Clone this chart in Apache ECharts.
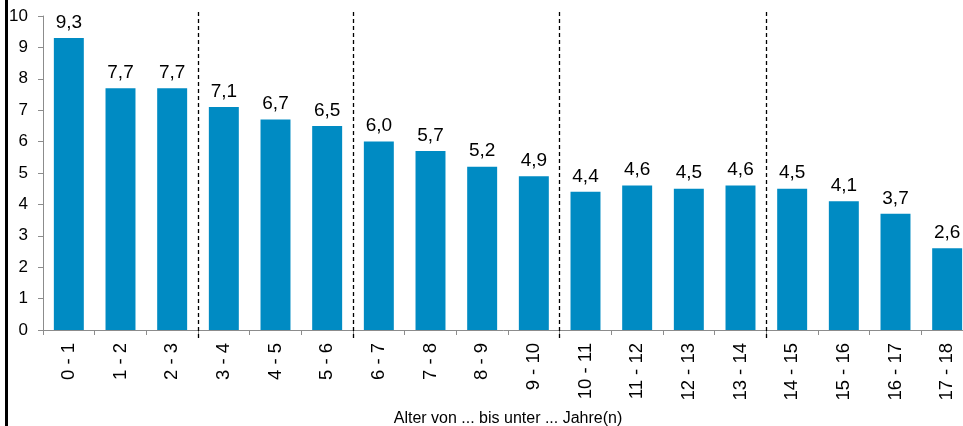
<!DOCTYPE html>
<html>
<head>
<meta charset="utf-8">
<script src="https://cdn.jsdelivr.net/npm/echarts@6/dist/echarts.min.js"></script>
<style>
  html, body { margin: 0; padding: 0; background: #fff; }
  #chart { width: 963px; height: 426px; }
</style>
</head>
<body>
<div id="chart"></div>
<script>
const categories = [
  "0 - 1", "1 - 2", "2 - 3", "3 - 4", "4 - 5", "5 - 6", "6 - 7", "7 - 8", "8 - 9",
  "9 - 10", "10 - 11", "11 - 12", "12 - 13", "13 - 14", "14 - 15", "15 - 16", "16 - 17", "17 - 18"
];
const values = [9.3, 7.7, 7.7, 7.1, 6.7, 6.5, 6.0, 5.7, 5.2, 4.9, 4.4, 4.6, 4.5, 4.6, 4.5, 4.1, 3.7, 2.6];
// group separators, in category-boundary units
const separators = [3, 6, 10, 14];
const yTicks = [0, 10, 1];
const axisName = "Alter von ... bis unter ... Jahre(n)";

const font = "Arial, 'Liberation Sans', sans-serif";
const chart = echarts.init(document.getElementById("chart"));

chart.setOption({
  animation: false,
  textStyle: { fontFamily: font },
  grid: [
    { left: 43, right: -10, top: 16, bottom: 96, outerBoundsMode: "none" },
    { left: 43, right: -10, top: 12, bottom: 88, outerBoundsMode: "none" }
  ],
  xAxis: [
    {
      type: "category",
      gridIndex: 0,
      data: categories,
      axisLine: { lineStyle: { color: "#8c8c8c", width: 1 } },
      axisTick: { show: true, length: 5, lineStyle: { color: "#8c8c8c" } },
      axisLabel: {
        rotate: 90,
        color: "#000",
        fontSize: 18.5,
        margin: 13,
        interval: 0
      },
      name: axisName,
      nameLocation: "middle",
      nameGap: 81,
      nameTextStyle: { color: "#000", fontSize: 16 }
    },
    {
      type: "value",
      gridIndex: 1,
      min: 0,
      max: categories.length,
      show: false
    }
  ],
  yAxis: [
    {
      type: "value",
      gridIndex: 0,
      min: yTicks[0],
      max: yTicks[1],
      interval: yTicks[2],
      axisLine: { show: true, lineStyle: { color: "#8c8c8c", width: 1 } },
      axisTick: { show: true, length: 5, lineStyle: { color: "#8c8c8c" } },
      axisLabel: { color: "#000", fontSize: 17, margin: 15 },
      splitLine: { show: false }
    },
    {
      type: "value",
      gridIndex: 1,
      min: 0,
      max: 1,
      show: false
    }
  ],
  series: [
    {
      type: "bar",
      xAxisIndex: 0,
      yAxisIndex: 0,
      data: values,
      barWidth: "58%",
      itemStyle: { color: "#008bc3" },
      label: {
        show: true,
        position: "top",
        distance: 6,
        color: "#000",
        fontSize: 19,
        formatter: (p) => p.value.toFixed(1).replace(".", ",")
      }
    },
    {
      type: "scatter",
      xAxisIndex: 1,
      yAxisIndex: 1,
      data: [],
      silent: true,
      markLine: {
        silent: true,
        symbol: "none",
        label: { show: false },
        lineStyle: { color: "#000", type: [4, 3], width: 1.3 },
        data: separators.map((x) => ({ xAxis: x }))
      }
    }
  ],
  graphic: [
    {
      type: "rect",
      shape: { x: 5, y: 0, width: 3, height: 426 },
      style: { fill: "#000" }
    }
  ]
});
</script>
</body>
</html>
